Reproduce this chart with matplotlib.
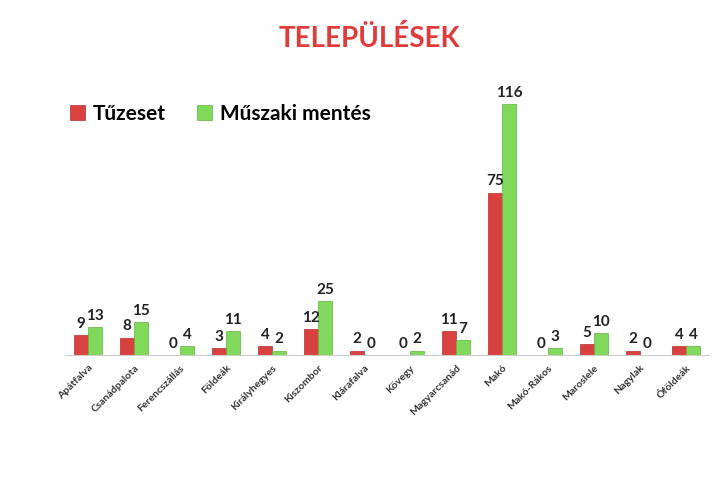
import matplotlib
matplotlib.use('Agg')
from matplotlib import pyplot as plt
import numpy as np

plt.rcParams['font.family'] = ['Lato', 'DejaVu Sans']

towns = ['Apátfalva', 'Csanádpalota', 'Ferencszállás', 'Földeák', 'Királyhegyes',
         'Kiszombor', 'Klárafalva', 'Kövegy', 'Magyarcsanád', 'Makó',
         'Makó-Rákos', 'Maroslele', 'Nagylak', 'Óföldeák']
tuzeset = [9, 8, 0, 3, 4, 12, 2, 0, 11, 75, 0, 5, 2, 4]
muszaki = [13, 15, 4, 11, 2, 25, 0, 2, 7, 116, 3, 10, 0, 4]

red = '#d8413f'
green = '#80d95a'

fig = plt.figure(figsize=(7.14, 4.79), dpi=100)
ax = fig.add_axes([0.091, 0.259, 0.902, 0.574])

x = np.arange(len(towns))
width = 0.3
r1 = ax.bar(x - width / 2, tuzeset, width, color=red, edgecolor='#b02e2c', linewidth=0.5, label='Tűzeset')
r2 = ax.bar(x + width / 2, muszaki, width, color=green, edgecolor='#5fb13c', linewidth=0.5, label='Műszaki mentés')
ax.bar_label(r1, padding=3, fontsize=11, fontweight='bold', color='#222222')
ax.bar_label(r2, padding=3, fontsize=11, fontweight='bold', color='#222222')

ax.set_xlim(-0.5, len(towns) - 0.5)
ax.set_ylim(0, 127)
ax.set_yticks([])
for s in ['top', 'right', 'left']:
    ax.spines[s].set_visible(False)
ax.spines['bottom'].set_color('#cccccc')
ax.set_xticks(x)
ax.set_xticklabels(towns, rotation=45, ha='right', rotation_mode='anchor',
                   fontsize=7.5, fontweight='bold', color='#333333')
ax.tick_params(axis='x', length=0, pad=6)

fig.text(0.518, 0.92, 'TELEPÜLÉSEK', ha='center', va='center',
         fontsize=20, fontweight='bold', color='#e03a3a')
fig.legend(handles=[r1, r2], loc='center left', bbox_to_anchor=(0.072, 0.762), ncol=2,
           frameon=False, handlelength=0.7, handleheight=0.7, columnspacing=1.5,
           handletextpad=0.4, prop={'weight': 'bold', 'size': 15})

fig.savefig('out.png', dpi=100)
